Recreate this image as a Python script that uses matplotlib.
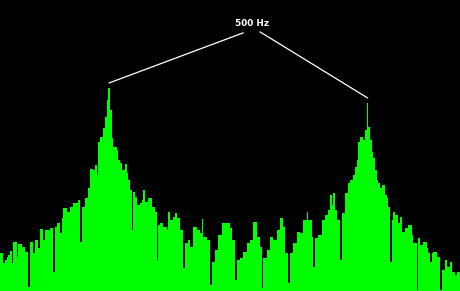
import numpy as np
import matplotlib
matplotlib.use("Agg")
import matplotlib.pyplot as plt

# Spectrum levels (height of each bin above the floor)
levels_low = [
    38, 38, 28, 31, 34, 36, 40, 28, 49, 49, 34, 47, 47, 44, 44, 39, 39, 4, 49, 49,
    38, 51, 51, 43, 62, 62, 51, 61, 61, 61, 63, 63, 19, 64, 68, 68, 58, 73, 83, 83,
    79, 79, 84, 84, 88, 88, 88, 91, 49, 84, 84, 93, 93, 103, 122, 122, 121, 126, 116, 149,
    154, 154, 163, 174, 191, 203, 181, 153, 144, 144, 141, 131, 128, 121, 121, 127, 118, 111, 101, 61,
    99, 94, 86, 86, 88, 91, 101, 89, 89, 93, 93, 84, 84, 79, 31, 66, 68, 68, 64, 64,
    61, 79, 71, 71, 74, 78, 73, 73, 61, 61, 23, 48, 48, 51, 44, 44, 64, 64, 61, 61,
    58, 72, 54, 54, 51, 51, 6, 29, 29, 41, 41, 56, 56, 68, 68, 68, 68, 68,
]
levels_high = [
    63, 51, 51, 11, 31, 31, 33, 33, 39, 39, 48, 48, 51, 51, 69, 69, 54, 54, 44, 3,
    33, 33, 41, 41, 54, 54, 51, 51, 61, 61, 73, 73, 64, 38, 38, 8, 38, 38, 48, 48,
    59, 59, 58, 58, 71, 71, 79, 71, 71, 54, 24, 53, 53, 56, 56, 71, 71, 76, 76, 81,
    96, 86, 98, 81, 71, 71, 31, 78, 78, 98, 98, 108, 111, 111, 116, 124, 131, 149, 154, 154,
    151, 161, 188, 164, 151, 139, 133, 121, 111, 108, 103, 106, 106, 96, 93, 84, 29, 71, 79, 76,
    76, 68, 74, 59, 59, 63, 63, 66, 66, 56, 48, 48, 1, 53, 46, 46, 49, 49, 43, 38,
    29, 38, 39, 39, 34, 34, 1, 21, 21, 31, 24, 24, 29, 19, 19, 16, 19, 19,
]
label = "500 Hz"

levels = np.array(levels_low + levels_high, dtype=float)
n = len(levels)
W, H = 460, 291
edges = np.linspace(0, W, n + 1)
centers = 0.5 * (edges[:-1] + edges[1:])

fig = plt.figure(figsize=(W / 100 + 0.001, H / 100 + 0.001), dpi=100)
fig.patch.set_facecolor("black")
ax = fig.add_axes([0, 0, 1, 1])
ax.set_facecolor("black")
ax.set_xlim(0, W)
ax.set_ylim(0, H)
ax.axis("off")

ax.stairs(levels, edges, fill=True, color="#00ff00", baseline=0)

# Annotation lines from the label to the two peaks
half = len(levels_low)
i1 = int(np.argmax(levels[:half]))
i2 = half + int(np.argmax(levels[half:]))
ax.plot([243, centers[i1]], [258, levels[i1] + 5], color="white", lw=0.9)
ax.plot([260, centers[i2]], [259, levels[i2] + 5], color="white", lw=0.9)
ax.text(251.5, 268, label, color="white", fontsize=6.4, fontweight="bold",
        ha="center", va="center", family="DejaVu Sans")

fig.savefig("out.png", dpi=100, facecolor="black")
